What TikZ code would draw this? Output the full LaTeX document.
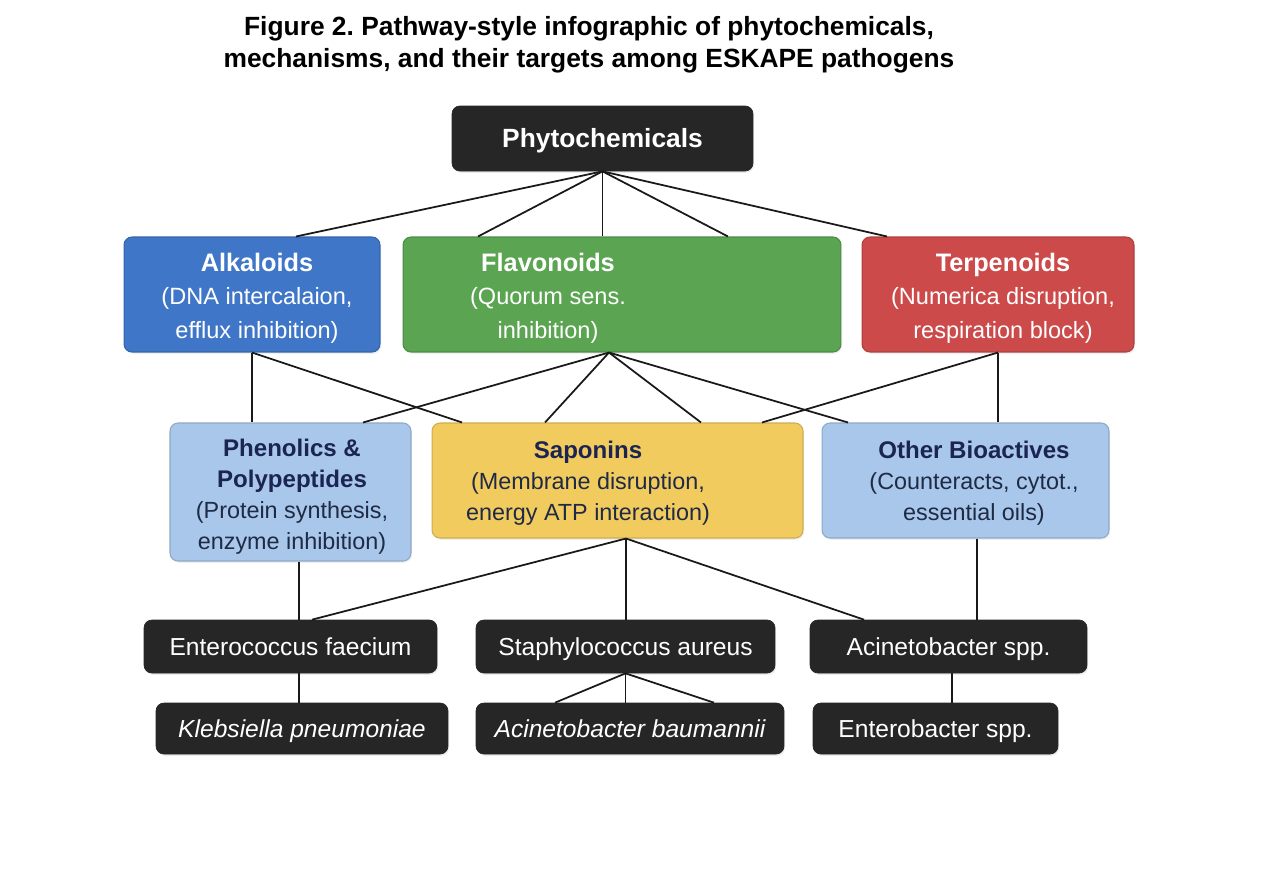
\documentclass[tikz,border=0pt]{standalone}
\usepackage{fontspec}
\setmainfont{Liberation Sans}
\usetikzlibrary{shadows}
\frenchspacing

\definecolor{boxblack}{HTML}{262626}
\definecolor{alkblue}{HTML}{3F76C8}
\definecolor{flavgreen}{HTML}{5BA452}
\definecolor{terpred}{HTML}{CC4A4A}
\definecolor{paleblue}{HTML}{A8C7EA}
\definecolor{sapyellow}{HTML}{F2CB5F}
\definecolor{navytext}{HTML}{1B2452}
\definecolor{darktext}{HTML}{1F2A44}

\newcommand{\tophead}{\bfseries\fontsize{14.4}{19}\selectfont}
\newcommand{\midhead}{\bfseries\color{navytext}\fontsize{13.7}{17.6}\selectfont}

\begin{document}
\begin{tikzpicture}[x=0.02cm, y=-0.02cm,
    catbox/.style={rounded corners=4.5pt, fill=#1, draw=#1!85!black, line width=0.6pt,
      inner sep=0pt, drop shadow={shadow xshift=0.6pt, shadow yshift=-1pt, opacity=0.12}},
    blackbox/.style={rounded corners=4.5pt, fill=boxblack, draw=boxblack, text=white,
      inner sep=0pt, text height=10.1pt, text depth=0pt, font=\fontsize{14}{17}\selectfont,
      drop shadow={shadow xshift=0.6pt, shadow yshift=-1pt, opacity=0.15}},
    toptext/.style={align=center, text=white, font=\fontsize{13.4}{19}\selectfont},
    midtext/.style={align=center, text=darktext, font=\fontsize{13.3}{17.6}\selectfont},
    link/.style={draw=black!90, line width=1pt}]

\useasboundingbox (0,0) rectangle (1270,880);

% Title
\node[font=\bfseries\fontsize{15}{18.2}\selectfont, align=center] (title) at (589,45)
  {Figure 2. Pathway-style infographic of phytochemicals,\\mechanisms, and their targets among ESKAPE pathogens};

% Top block
\node[blackbox, minimum width=6.02cm, minimum height=1.30cm, text height=10.8pt,
      font=\bfseries\fontsize{15}{18}\selectfont] (phyto) at (602.5,138.5) {Phytochemicals};

% Compound classes
\node[catbox=alkblue, minimum width=5.12cm, minimum height=2.30cm] (alk) at (252,294.5) {};
\node[catbox=flavgreen, minimum width=8.76cm, minimum height=2.30cm] (flav) at (622,294.5) {};
\node[catbox=terpred, minimum width=5.44cm, minimum height=2.30cm] (terp) at (998,294.5) {};

\node[toptext] (alktext) at (257,298)
  {{\tophead Alkaloids}\\(DNA intercalaion,\\efflux inhibition)};
\node[toptext] (flavtext) at (548,298)
  {{\tophead Flavonoids}\\(Quorum sens.\\inhibition)};
\node[toptext] (terptext) at (1003,298)
  {{\tophead Terpenoids}\\(Numerica disruption,\\respiration block)};

% Mechanism blocks
\node[catbox=paleblue, minimum width=4.82cm, minimum height=2.76cm] (phen) at (290.5,492) {};
\node[catbox=sapyellow, minimum width=7.42cm, minimum height=2.30cm] (sap) at (617.5,480.5) {};
\node[catbox=paleblue, minimum width=5.74cm, minimum height=2.30cm] (other) at (965.5,480.5) {};

\node[midtext] (phentext) at (292,497)
  {{\midhead Phenolics \&}\\{\midhead Polypeptides}\\(Protein synthesis,\\enzyme inhibition)};
\node[midtext] (saptext) at (588,483)
  {{\midhead Saponins}\\(Membrane disruption,\\energy ATP interaction)};
\node[midtext] (othertext) at (974,483)
  {{\midhead Other Bioactives}\\(Counteracts, cytot.,\\essential oils)};

% ESKAPE pathogens
\node[blackbox, minimum width=5.86cm, minimum height=1.06cm] (ent) at (290.5,646.5) {Enterococcus faecium};
\node[blackbox, minimum width=5.98cm, minimum height=1.06cm] (staph) at (625.5,646.5) {Staphylococcus aureus};
\node[blackbox, minimum width=5.54cm, minimum height=1.06cm] (acin) at (948.5,646.5) {Acinetobacter spp.};
\node[blackbox, minimum width=5.84cm, minimum height=1.02cm] (kleb) at (302,728.5) {\itshape Klebsiella pneumoniae};
\node[blackbox, minimum width=6.16cm, minimum height=1.02cm] (baum) at (630,728.5) {\itshape Acinetobacter baumannii};
\node[blackbox, minimum width=4.90cm, minimum height=1.02cm] (entb) at (935.5,728.5) {Enterobacter spp.};

% Links from phytochemicals
\draw[link] (phyto.south) -- ([xshift=0.88cm]alk.north);
\draw[link] (phyto.south) -- ([xshift=-2.88cm]flav.north);
\draw[link] (phyto.south) -- (phyto.south |- flav.north);
\draw[link] (phyto.south) -- ([xshift=2.12cm]flav.north);
\draw[link] (phyto.south) -- ([xshift=-2.22cm]terp.north);

% Links to mechanisms
\coordinate (flavb) at ([xshift=-0.26cm]flav.south);
\draw[link] (alk.south) -- (alk.south |- phen.north);
\draw[link] (alk.south) -- ([xshift=-3.11cm]sap.north);
\draw[link] (flavb) -- ([xshift=1.45cm]phen.north);
\draw[link] (flavb) -- ([xshift=-1.45cm]sap.north);
\draw[link] (flavb) -- ([xshift=1.67cm]sap.north);
\draw[link] (flavb) -- ([xshift=-2.35cm]other.north);
\draw[link] (terp.south) -- ([xshift=2.89cm]sap.north);
\draw[link] (terp.south) -- (terp.south |- other.north);

% Links to pathogens
\coordinate (phenb) at ([xshift=0.17cm]phen.south);
\coordinate (sapb) at ([xshift=0.17cm]sap.south);
\coordinate (otherb) at ([xshift=0.23cm]other.south);
\draw[link] (phenb) -- (phenb |- ent.north);
\draw[link] (sapb) -- ([xshift=0.43cm]ent.north);
\draw[link] (sapb) -- (sapb |- staph.north);
\draw[link] (sapb) -- ([xshift=-1.69cm]acin.north);
\draw[link] (otherb) -- (otherb |- acin.north);

% Second pathogen row
\coordinate (entb2) at ([xshift=0.17cm]ent.south);
\coordinate (acinb) at ([xshift=0.07cm]acin.south);
\draw[link] (entb2) -- (entb2 |- kleb.north);
\draw[link] (staph.south) -- ([xshift=-1.5cm]baum.north);
\draw[link] (staph.south) -- (staph.south |- baum.north);
\draw[link] (staph.south) -- ([xshift=1.68cm]baum.north);
\draw[link] (acinb) -- (acinb |- entb.north);

\end{tikzpicture}
\end{document}
